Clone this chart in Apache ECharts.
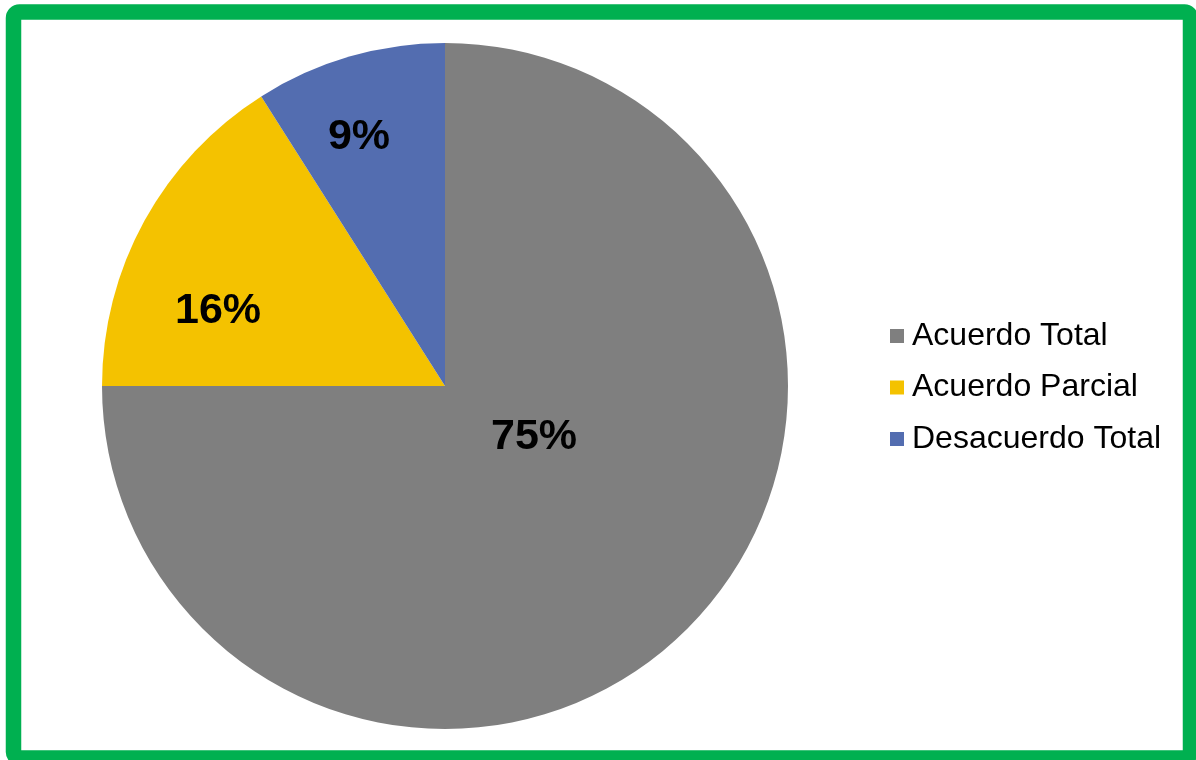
<!DOCTYPE html>
<html>
<head>
<meta charset="utf-8">
<script src="https://cdn.jsdelivr.net/npm/echarts@6/dist/echarts.min.js"></script>
<style>
  html, body { margin: 0; padding: 0; background: #ffffff; }
  #chart { width: 1196px; height: 760px; }
</style>
</head>
<body>
<div id="chart"></div>
<script>
// Survey answers, share of respondents (%)
const categories = ['Acuerdo Total', 'Acuerdo Parcial', 'Desacuerdo Total'];
const shares = [75, 16, 9];
const sliceColors = ['#7f7f7f', '#f4c200', '#536db0'];

const chart = echarts.init(document.getElementById('chart'), null, { renderer: 'canvas' });

// spot for each percentage label inside its slice
const labelSpots = [[534, 437], [218, 311], [359, 137]];

chart.setOption({
  backgroundColor: '#ffffff',
  animation: false,
  graphic: [{
    type: 'rect',
    shape: { x: 13.5, y: 12, width: 1177, height: 746, r: 6 },
    style: { fill: 'none', stroke: '#00b050', lineWidth: 15.5 },
    z: 100
  }],
  legend: {
    orient: 'vertical',
    left: 885,
    top: 314,
    icon: 'rect',
    itemWidth: 14,
    itemHeight: 14,
    itemGap: 17.5,
    data: categories,
    textStyle: {
      fontFamily: 'Liberation Sans, Arial, sans-serif',
      fontSize: 32,
      lineHeight: 34,
      color: '#000000',
      padding: [0, 0, 0, 3]
    }
  },
  series: [{
    type: 'pie',
    center: [445, 386],
    radius: 343,
    startAngle: 90,
    clockwise: true,
    avoidLabelOverlap: false,
    label: {
      show: true,
      position: 'inside',
      formatter: '{c}%',
      fontFamily: 'Liberation Sans, Arial, sans-serif',
      fontWeight: 'bold',
      fontSize: 43,
      color: '#000000'
    },
    labelLine: { show: false },
    labelLayout: function (p) {
      const s = labelSpots[p.dataIndex];
      return { x: s[0], y: s[1], align: 'center', verticalAlign: 'middle' };
    },
    emphasis: { disabled: true },
    data: categories.map((name, i) => ({
      name: name,
      value: shares[i],
      itemStyle: { color: sliceColors[i] }
    }))
  }]
});
</script>
</body>
</html>
